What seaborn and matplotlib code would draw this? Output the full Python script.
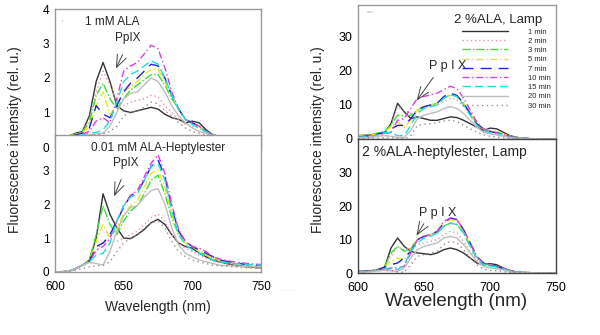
import pandas as pd
import numpy as np
import matplotlib
matplotlib.use('Agg')
import matplotlib.pyplot as plt
import seaborn as sns

sns.set_style('white')
plt.rcParams['font.family'] = ['Liberation Sans', 'DejaVu Sans']

##########################################################################################################################
# values

wavelength = [600, 610, 615, 620, 625, 630, 635, 640, 645, 650, 655, 660, 665, 670, 675,
              680, 685, 690, 695, 700, 705, 710, 715, 720, 730, 740, 750]

times = ['1 min', '2 min', '3 min', '5 min', '7 min', '10 min', '15 min', '20 min', '30 min']

# 1 mM ALA (top left)
ala_1mM = {
    '1 min':  [0.3, 0.32, 0.4, 0.45, 0.9, 1.9, 2.45, 1.9, 1.2, 1.05, 1.0, 1.05, 1.1, 1.15, 1.1, 0.95, 0.85, 0.8, 0.7, 0.75, 0.7, 0.5, 0.35, 0.3, 0.3, 0.3, 0.3],
    '2 min':  [0.3, 0.32, 0.38, 0.45, 0.8, 1.6, 2.2, 1.8, 1.3, 1.2, 1.3, 1.35, 1.4, 1.5, 1.45, 1.2, 1.0, 0.8, 0.65, 0.6, 0.55, 0.4, 0.33, 0.3, 0.3, 0.3, 0.3],
    '3 min':  [0.3, 0.32, 0.38, 0.45, 0.7, 1.5, 1.85, 1.4, 1.1, 1.4, 1.65, 1.8, 1.95, 2.1, 2.1, 1.8, 1.4, 1.1, 0.8, 0.7, 0.6, 0.45, 0.35, 0.3, 0.3, 0.3, 0.3],
    '5 min':  [0.3, 0.32, 0.36, 0.42, 0.6, 1.2, 1.6, 0.95, 1.2, 1.6, 1.75, 1.9, 2.1, 2.25, 2.25, 1.9, 1.5, 1.1, 0.8, 0.7, 0.6, 0.45, 0.35, 0.3, 0.3, 0.3, 0.3],
    '7 min':  [0.3, 0.3, 0.35, 0.4, 0.55, 1.2, 0.95, 0.85, 1.2, 1.6, 1.85, 2.0, 2.2, 2.4, 2.35, 2.0, 1.5, 1.1, 0.8, 0.7, 0.6, 0.45, 0.35, 0.3, 0.3, 0.3, 0.3],
    '10 min': [0.3, 0.3, 0.33, 0.38, 0.45, 0.75, 0.85, 0.7, 1.4, 2.2, 2.35, 2.45, 2.7, 2.95, 2.85, 2.3, 1.6, 1.1, 0.8, 0.7, 0.6, 0.45, 0.35, 0.32, 0.3, 0.3, 0.3],
    '15 min': [0.3, 0.3, 0.32, 0.35, 0.4, 0.42, 0.5, 0.75, 1.3, 1.9, 2.1, 2.2, 2.35, 2.5, 2.4, 2.0, 1.5, 1.1, 0.8, 0.65, 0.55, 0.45, 0.35, 0.3, 0.3, 0.3, 0.3],
    '20 min': [0.3, 0.3, 0.32, 0.33, 0.35, 0.38, 0.4, 0.6, 1.0, 1.4, 1.55, 1.6, 1.8, 2.0, 1.9, 1.6, 1.2, 0.9, 0.7, 0.55, 0.45, 0.4, 0.33, 0.3, 0.3, 0.3, 0.3],
    '30 min': [0.3, 0.3, 0.3, 0.32, 0.33, 0.35, 0.38, 0.45, 0.6, 0.9, 1.0, 1.05, 1.15, 1.3, 1.25, 1.05, 0.9, 0.7, 0.55, 0.45, 0.4, 0.35, 0.33, 0.3, 0.3, 0.3, 0.3],
}

# 0.01 mM ALA-Heptylester (bottom left)
hept_001mM = {
    '1 min':  [0.0, 0.02, 0.1, 0.2, 0.35, 1.0, 2.3, 1.7, 1.3, 1.0, 0.98, 1.1, 1.25, 1.45, 1.55, 1.4, 1.1, 0.85, 0.75, 0.7, 0.55, 0.45, 0.35, 0.3, 0.2, 0.15, 0.12],
    '2 min':  [0.0, 0.02, 0.1, 0.2, 0.3, 0.6, 0.9, 0.9, 0.9, 1.0, 1.1, 1.2, 1.4, 1.6, 1.7, 1.5, 1.1, 0.85, 0.7, 0.6, 0.5, 0.4, 0.32, 0.28, 0.2, 0.15, 0.12],
    '3 min':  [0.0, 0.02, 0.1, 0.2, 0.35, 1.1, 1.95, 1.4, 1.1, 1.5, 1.8, 1.95, 2.3, 2.7, 2.85, 2.3, 1.6, 1.1, 0.85, 0.75, 0.6, 0.5, 0.4, 0.33, 0.25, 0.2, 0.18],
    '5 min':  [0.0, 0.02, 0.1, 0.2, 0.3, 0.9, 1.4, 1.0, 1.3, 1.7, 1.95, 2.1, 2.5, 2.9, 3.0, 2.5, 1.7, 1.15, 0.85, 0.75, 0.6, 0.5, 0.4, 0.33, 0.25, 0.2, 0.18],
    '7 min':  [0.0, 0.02, 0.1, 0.2, 0.3, 0.75, 0.85, 1.1, 1.5, 1.9, 2.25, 2.35, 2.7, 3.1, 3.3, 2.8, 1.9, 1.2, 0.9, 0.75, 0.65, 0.55, 0.45, 0.35, 0.28, 0.22, 0.2],
    '10 min': [0.0, 0.02, 0.1, 0.2, 0.3, 0.65, 0.75, 1.0, 1.5, 1.95, 2.25, 2.4, 2.8, 3.2, 3.45, 2.9, 2.0, 1.25, 0.9, 0.75, 0.7, 0.6, 0.45, 0.38, 0.3, 0.25, 0.22],
    '15 min': [0.0, 0.02, 0.1, 0.2, 0.3, 0.5, 0.55, 0.85, 1.5, 1.95, 2.2, 2.3, 2.7, 3.1, 3.2, 2.7, 1.8, 1.1, 0.8, 0.65, 0.55, 0.45, 0.35, 0.3, 0.25, 0.22, 0.2],
    '20 min': [0.0, 0.02, 0.1, 0.2, 0.28, 0.25, 0.2, 0.6, 1.2, 1.65, 1.9, 1.95, 2.2, 2.4, 2.45, 2.0, 1.3, 0.8, 0.55, 0.45, 0.35, 0.3, 0.25, 0.2, 0.18, 0.15, 0.15],
    '30 min': [0.0, 0.02, 0.05, 0.1, 0.15, 0.18, 0.2, 0.3, 0.6, 0.85, 1.0, 1.1, 1.3, 1.45, 1.5, 1.3, 0.9, 0.6, 0.45, 0.35, 0.3, 0.25, 0.2, 0.18, 0.15, 0.12, 0.1],
}

# 2 %ALA, Lamp (top right)
ala_lamp = {
    '1 min':  [1.0, 1.2, 1.5, 1.8, 4.5, 10.5, 8.0, 6.0, 6.5, 6.0, 5.5, 5.5, 6.0, 6.5, 6.3, 5.5, 4.5, 3.5, 2.5, 3.2, 3.0, 2.0, 1.0, 0.5, 0.1, 0.0, 0.0],
    '2 min':  [0.8, 1.2, 1.5, 1.8, 4.0, 9.5, 8.5, 7.5, 8.0, 9.0, 9.5, 10.0, 11.0, 12.0, 11.5, 9.5, 7.0, 4.5, 3.0, 2.5, 2.2, 1.5, 0.8, 0.4, 0.1, 0.0, 0.0],
    '3 min':  [0.8, 1.3, 1.8, 2.2, 4.0, 7.0, 6.8, 7.0, 8.5, 9.5, 10.0, 10.5, 12.0, 13.0, 12.5, 10.5, 7.5, 4.5, 3.0, 2.3, 2.0, 1.5, 0.8, 0.4, 0.1, 0.0, 0.0],
    '5 min':  [0.8, 1.2, 1.6, 2.0, 3.5, 5.0, 3.5, 5.5, 8.5, 9.5, 10.0, 10.5, 12.0, 13.0, 12.5, 10.5, 7.5, 4.5, 3.0, 2.3, 2.0, 1.5, 0.8, 0.4, 0.1, 0.0, 0.0],
    '7 min':  [0.6, 1.0, 1.5, 2.0, 3.0, 4.0, 4.0, 6.0, 8.5, 9.5, 10.0, 10.5, 12.5, 13.5, 12.8, 10.5, 7.5, 4.5, 3.0, 2.2, 1.8, 1.3, 0.7, 0.3, 0.1, 0.0, 0.0],
    '10 min': [0.5, 0.8, 1.2, 1.5, 2.0, 5.5, 6.0, 9.0, 12.0, 12.5, 13.0, 13.5, 14.5, 15.5, 14.8, 12.0, 8.5, 5.0, 3.0, 2.2, 1.8, 1.3, 0.7, 0.3, 0.1, 0.0, 0.0],
    '15 min': [0.5, 0.8, 1.2, 2.0, 1.8, 1.0, 1.0, 4.0, 7.5, 9.0, 9.5, 10.0, 12.0, 13.0, 12.5, 10.0, 7.0, 4.0, 2.5, 1.8, 1.5, 1.0, 0.5, 0.3, 0.1, 0.0, 0.0],
    '20 min': [0.3, 0.5, 0.8, 1.0, 0.8, 0.5, 0.5, 2.5, 6.0, 7.0, 7.5, 8.0, 9.0, 9.5, 9.0, 7.5, 5.5, 3.5, 2.0, 1.5, 1.2, 0.8, 0.4, 0.2, 0.1, 0.0, 0.0],
    '30 min': [0.0, 0.2, 0.3, 0.4, 0.3, 0.2, 0.0, 1.0, 4.0, 4.3, 4.5, 4.8, 5.3, 5.5, 5.2, 4.0, 3.0, 2.0, 1.2, 0.8, 0.6, 0.3, 0.1, 0.0, 0.0, 0.0, 0.0],
}

# 2 %ALA-heptylester, Lamp (bottom right)
hept_lamp = {
    '1 min':  [0.5, 0.7, 1.0, 1.5, 7.5, 10.5, 8.0, 6.5, 6.0, 5.8, 5.5, 6.0, 7.0, 7.5, 7.0, 6.0, 4.5, 3.0, 2.5, 2.8, 2.5, 1.5, 0.8, 0.3, 0.1, 0.0, 0.0],
    '2 min':  [0.3, 0.6, 0.9, 1.5, 5.0, 8.0, 7.0, 7.5, 8.5, 9.0, 9.5, 10.0, 11.5, 12.5, 12.0, 9.5, 6.5, 4.0, 2.5, 2.0, 1.8, 1.2, 0.6, 0.3, 0.1, 0.0, 0.0],
    '3 min':  [0.3, 0.6, 1.0, 1.8, 6.0, 8.0, 6.5, 7.5, 10.0, 11.0, 11.5, 12.0, 14.0, 15.0, 14.5, 12.0, 8.0, 4.5, 2.8, 2.2, 2.0, 1.3, 0.6, 0.3, 0.1, 0.0, 0.0],
    '5 min':  [0.3, 0.6, 1.0, 1.8, 3.5, 4.5, 4.0, 7.0, 10.0, 11.0, 11.5, 12.5, 15.0, 16.0, 15.5, 12.5, 8.5, 4.8, 2.8, 2.2, 2.0, 1.3, 0.6, 0.3, 0.1, 0.0, 0.0],
    '7 min':  [0.3, 0.6, 1.0, 1.8, 2.5, 3.0, 4.5, 6.5, 10.0, 11.0, 11.5, 12.5, 15.0, 16.5, 16.0, 13.0, 9.0, 5.0, 3.0, 2.3, 2.0, 1.3, 0.6, 0.3, 0.1, 0.0, 0.0],
    '10 min': [0.3, 0.5, 0.8, 1.2, 1.5, 1.5, 2.0, 6.0, 10.0, 11.0, 11.5, 12.5, 15.5, 16.5, 16.0, 13.0, 9.0, 5.0, 3.0, 2.3, 2.0, 1.4, 0.7, 0.3, 0.1, 0.0, 0.0],
    '15 min': [0.3, 0.5, 0.8, 1.2, 1.2, 1.0, 2.5, 6.5, 9.0, 10.5, 11.0, 12.0, 14.0, 15.0, 14.5, 12.0, 8.0, 4.5, 2.5, 2.0, 1.8, 1.2, 0.6, 0.3, 0.1, 0.0, 0.0],
    '20 min': [0.2, 0.4, 0.6, 0.8, 0.6, 0.5, 1.5, 4.5, 7.0, 8.0, 8.5, 9.0, 10.5, 11.0, 10.5, 8.5, 6.0, 3.5, 2.0, 1.5, 1.3, 0.9, 0.4, 0.2, 0.1, 0.0, 0.0],
    '30 min': [0.5, 0.8, 1.0, 1.2, 0.8, 0.3, 0.2, 2.5, 5.0, 5.5, 6.0, 6.5, 8.5, 9.5, 9.0, 7.0, 4.5, 2.5, 1.2, 0.8, 0.7, 0.4, 0.2, 0.1, 0.0, 0.0, 0.0],
}

colors = ['#333333', '#e597a8', '#3ddc3d', '#e6e619', '#2323c8', '#dd3ddd', '#1fdcdc', '#bdbdbd', '#a08c8c']
dash_styles = ['', (1, 2), (6, 1.5, 1, 1.5), (5, 2, 1, 2), (8, 5), (5, 2, 1, 2), (6, 3), '', (1, 2.5)]
palette = dict(zip(times, colors))
dashes = dict(zip(times, dash_styles))


def long_form(d):
    df = pd.DataFrame(d)
    df['wavelength'] = wavelength
    return df.melt(id_vars='wavelength', var_name='time', value_name='intensity')


##########################################################################################################################
# figure, panels overlap the way the original pasted figure does

fig = plt.figure(figsize=(6, 3.35), dpi=100)
W, H = 600, 335


def panel(x0, y_top, x1, y_bot):
    return fig.add_axes([x0 / W, 1 - y_bot / H, (x1 - x0) / W, (y_bot - y_top) / H])


ax_lt = panel(55, 9, 261, 147)
ax_lb = panel(55, 135, 261, 272)
ax_rt = panel(358, 5, 556, 139)
ax_rb = panel(358, 139, 556, 273)

panels = [(ax_lt, ala_1mM, (0, 4), [0, 1, 2, 3, 4]),
          (ax_lb, hept_001mM, (0, 4.03), [0, 1, 2, 3]),
          (ax_rt, ala_lamp, (0, 39.4), [0, 10, 20, 30]),
          (ax_rb, hept_lamp, (0, 40.2), [0, 10, 20, 30])]

for ax, d, ylim, yt in panels:
    ax.set_facecolor('white')
    sns.lineplot(data=long_form(d), x='wavelength', y='intensity', hue='time', style='time',
                 palette=palette, dashes=dashes, hue_order=times, style_order=times,
                 linewidth=1.0, legend=(ax is ax_rt), ax=ax)
    ax.set_xlim(600, 750)
    ax.set_ylim(*ylim)
    ax.set_yticks(yt)
    ax.set_xticks([600, 650, 700, 750])
    ax.set_xlabel('')
    ax.set_ylabel('')
    ax.tick_params(length=2, width=0.6, colors='#666666', labelcolor='black', pad=2)
    ax.tick_params(axis='x', pad=4.5)
    for s in ax.spines.values():
        s.set_color('#999999')
        s.set_linewidth(1.0)

for ax in [ax_lt, ax_lb]:
    ax.tick_params(labelsize=8.5)
for ax in [ax_rt, ax_rb]:
    ax.tick_params(labelsize=9)
for s in ax_rb.spines.values():
    s.set_color('#444444')

ax_lt.tick_params(labelbottom=False)
ax_rt.tick_params(labelbottom=False)

# legend (top right)
leg = ax_rt.legend(loc='upper right', bbox_to_anchor=(0.99, 0.85), frameon=False, fontsize=5.5,
                   handlelength=6.0, handletextpad=2.6, labelspacing=0.25, borderaxespad=0)
for line in leg.get_lines():
    line.set_linewidth(1.0)

arrow = dict(arrowstyle='->, head_length=0.9, head_width=0.35', color='#444444', lw=0.7)

# panel titles and PpIX arrows
ax_lt.text(641.5, 3.62, '1 mM ALA', ha='center', va='center', fontsize=8.5)
ax_lt.text(653, 3.16, 'PpIX', ha='center', va='center', fontsize=8.5)
ax_lt.annotate('', xy=(643.5, 2.2), xytext=(650, 2.75), arrowprops=arrow)
ax_lt.text(605, 3.55, "'", fontsize=5, color='#888888')

ax_lb.text(675, 3.64, '0.01 mM ALA-Heptylester', ha='center', va='center', fontsize=8.5)
ax_lb.text(651.7, 3.2, 'PpIX', ha='center', va='center', fontsize=8.5)
ax_lb.annotate('', xy=(642.2, 2.15), xytext=(649, 2.8), arrowprops=arrow)

ax_rt.text(706, 35, '2 %ALA, Lamp', ha='center', va='center', fontsize=9.5)
ax_rt.text(668, 21.5, 'P p I X', ha='center', va='center', fontsize=9)
ax_rt.annotate('', xy=(643.2, 10.6), xytext=(658.3, 18.8), arrowprops=arrow)
ax_rt.text(607, 38, 'vvo', fontsize=3, color='#999999', va='top')

ax_rb.text(603, 36.3, '2 %ALA-heptylester, Lamp', ha='left', va='center', fontsize=10)
ax_rb.text(660, 18, 'P p I X', ha='center', va='center', fontsize=9)
ax_rb.annotate('', xy=(643.2, 10.5), xytext=(651, 15.5), arrowprops=arrow)

# axis labels
fig.text(15 / W, 1 - 140 / H, 'Fluorescence intensity (rel. u.)', rotation=90,
         ha='center', va='center', fontsize=10)
fig.text(158 / W, 1 - 307 / H, 'Wavelength (nm)', ha='center', va='center', fontsize=10)
fig.text(318 / W, 1 - 140 / H, 'Fluorescence intensity (rel. u.)', rotation=90,
         ha='center', va='center', fontsize=10)
fig.text(456 / W, 1 - 302 / H, 'Wavelength (nm)', ha='center', va='center', fontsize=13.5)
fig.text(288 / W, 1 - 291 / H, '- - - -', ha='center', va='center', fontsize=4, color='#cccccc')

fig.savefig('out.png', dpi=100)
